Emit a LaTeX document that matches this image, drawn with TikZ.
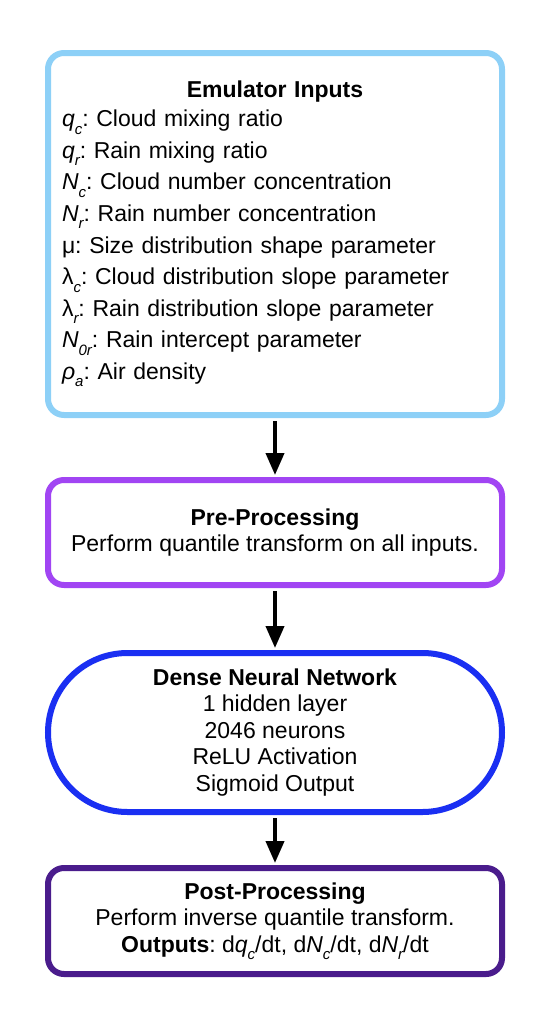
\documentclass[tikz,border=0pt]{standalone}
\usepackage{fontspec}
\setmainfont{Liberation Sans}
\usetikzlibrary{arrows.meta}
\definecolor{inblue}{HTML}{8DD0F7}
\definecolor{prepurple}{HTML}{A145F3}
\definecolor{nnblue}{HTML}{1A2FF2}
\definecolor{postpurple}{HTML}{4A1C8C}
\newcommand\mysub[1]{\raisebox{-0.32em}{\fontsize{15}{15}\selectfont\itshape #1}}
\frenchspacing
\begin{document}
\frenchspacing
\begin{tikzpicture}[x=1pt,y=-1pt,
  box/.style={draw, line width=6pt, rounded corners=16pt, fill=white,
    font=\fontsize{23}{26.5}\selectfont\frenchspacing, align=center, minimum width=454pt, inner sep=0pt},
  arr/.style={line width=4pt, -{Triangle[width=18pt,length=22pt]}, shorten <=3pt, shorten >=2pt}]
\useasboundingbox (0,0) rectangle (548,1034);
\node[box, draw=inblue, minimum height=362pt, text width=426pt, inner xsep=14pt, align=left,
  font=\fontsize{23}{31.6}\selectfont\frenchspacing] (inp) at (275,234) {%
\makebox[426pt]{\bfseries Emulator Inputs}\\[-2.5pt]
\textit{q}\mysub{c}: Cloud mixing ratio\\
\textit{q}\mysub{r}: Rain mixing ratio\\
\textit{N}\mysub{c}: Cloud number concentration\\
\textit{N}\mysub{r}: Rain number concentration\\
μ: Size distribution shape parameter\\
λ\mysub{c}: Cloud distribution slope parameter\\
λ\mysub{r}: Rain distribution slope parameter\\
\textit{N}\mysub{0r}: Rain intercept parameter\\
\textit{ρ}\mysub{a}: Air density};
\node[box, draw=prepurple, minimum height=105pt] (pre) at (275,532.5) {%
\textbf{Pre-Processing}\\Perform quantile transform on all inputs.};
\node[box, draw=nnblue, minimum height=159pt, rounded corners=79.5pt] (dnn) at (275,732.5) {%
\textbf{Dense Neural Network}\\1 hidden layer\\2046 neurons\\ReLU Activation\\Sigmoid Output};
\node[box, draw=postpurple, minimum height=106pt] (post) at (275,921) {%
\textbf{Post-Processing}\\Perform inverse quantile transform.\\
\textbf{Outputs}: d\textit{q}\mysub{c}/dt, d\textit{N}\mysub{c}/dt, d\textit{N}\mysub{r}/dt};
\draw[arr] (inp.south) -- (pre.north);
\draw[arr] (pre.south) -- (dnn.north);
\draw[arr] (dnn.south) -- (post.north);
\end{tikzpicture}
\end{document}
